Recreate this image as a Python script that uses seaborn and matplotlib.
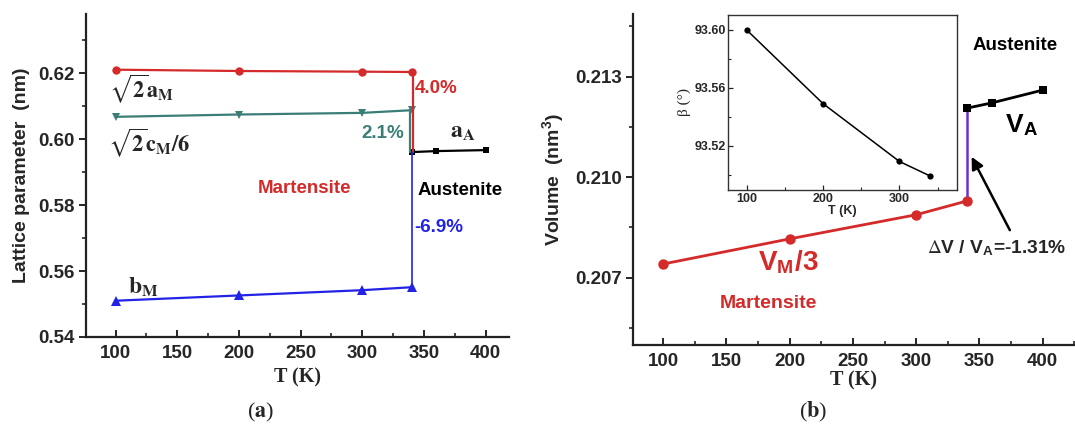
import numpy as np
import pandas as pd
import matplotlib
matplotlib.use("Agg")
import matplotlib.pyplot as plt
from matplotlib.ticker import MultipleLocator
import seaborn as sns

# ---------------- data ----------------
T_M = [100, 200, 300, 340]
T_A = [340, 360, 400]
a_M = [0.6211, 0.6207, 0.6205, 0.6204]      # sqrt(2) a_M
c_M = [0.6068, 0.6075, 0.6080, 0.6088]      # sqrt(2) c_M / 6
b_M = [0.5510, 0.5526, 0.5542, 0.5551]
a_A = [0.5961, 0.5964, 0.5967]

V_M = [0.20741, 0.20816, 0.20888, 0.20929]  # V_M / 3
V_A = [0.21206, 0.21222, 0.21260]

T_beta = [100, 200, 300, 340]
beta = [93.600, 93.549, 93.509, 93.499]

RED = "#d42a2a"
TEAL = "#3b7d77"
BLUE = "#2323e6"
PURPLE = "#6a30d8"
SANS = "Liberation Sans"
SERIF = "Liberation Serif"

sns.set_theme(style="ticks")
plt.rcParams["font.family"] = [SANS, "DejaVu Sans"]
plt.rcParams["mathtext.fontset"] = "stix"

fig = plt.figure(figsize=(10.75, 4.25), dpi=100)
axA = fig.add_axes([0.080, 0.2071, 0.3935, 0.760])
axB = fig.add_axes([0.5886, 0.188, 0.4114, 0.779])
axI = fig.add_axes([0.6775, 0.553, 0.2125, 0.412])

def style_main(ax):
    for s in ["top", "right"]:
        ax.spines[s].set_visible(False)
    for s in ["left", "bottom"]:
        ax.spines[s].set_linewidth(1.6)
        ax.spines[s].set_color("#222222")
    ax.tick_params(axis="y", which="major", direction="out", length=5, width=1.4, labelsize=13.5, pad=3)
    ax.tick_params(axis="y", which="minor", direction="out", length=3, width=1.2)
    ax.tick_params(axis="x", which="major", direction="in", length=5, width=1.4, labelsize=13.5, pad=6)
    ax.tick_params(axis="x", which="minor", direction="in", length=3, width=1.2)
    for lab in ax.get_xticklabels() + ax.get_yticklabels():
        lab.set_fontweight("bold")
        lab.set_family(SANS)

lw = 1.6
ms = 6
# ---------------- panel (a) ----------------
df_a = pd.DataFrame({"T": T_M, "y": a_M})
sns.lineplot(data=df_a, x="T", y="y", ax=axA, color=RED, marker="o", markersize=ms,
             markeredgewidth=0, linewidth=lw)
sns.lineplot(x=T_M, y=c_M, ax=axA, color=TEAL, marker="v", markersize=ms,
             markeredgewidth=0, linewidth=lw)
sns.lineplot(x=T_M, y=b_M, ax=axA, color=BLUE, marker="^", markersize=ms + 1,
             markeredgewidth=0, linewidth=lw)
sns.lineplot(x=T_A, y=a_A, ax=axA, color="black", marker="s", markersize=ms - 1,
             markeredgewidth=0, linewidth=lw)
# vertical jumps at the transition
axA.plot([T_M[-1] + 1.5, T_A[0] + 1.5], [a_M[-1], a_A[0]], color=RED, lw=lw)
axA.plot([T_M[-1] - 1.5, T_A[0] - 1.5], [c_M[-1], a_A[0]], color=TEAL, lw=lw)
axA.plot([T_M[-1], T_A[0]], [b_M[-1], a_A[0]], color=BLUE, lw=1.2)

axA.set_xlim(76, 419)
axA.set_ylim(0.54, 0.638)
axA.xaxis.set_major_locator(MultipleLocator(50))
axA.xaxis.set_minor_locator(MultipleLocator(25))
axA.yaxis.set_major_locator(MultipleLocator(0.02))
axA.yaxis.set_minor_locator(MultipleLocator(0.01))
axA.yaxis.set_major_formatter(matplotlib.ticker.FormatStrFormatter("%.2f"))
style_main(axA)
axA.set_xlabel("T (K)", family=SERIF, fontsize=14.5, fontweight="bold", labelpad=4)
axA.set_ylabel("Lattice parameter  (nm)", fontsize=14, fontweight="bold", labelpad=6)

kw_serif = dict(fontsize=16, va="center", ha="left")
axA.text(95, 0.6155, r"$\mathbf{\sqrt{2}a_{M}}$", **kw_serif)
axA.text(93.5, 0.5991, r"$\mathbf{\sqrt{2}c_{M}/6}$", **kw_serif)
axA.text(371, 0.6021, r"$\mathbf{a_{A}}$", fontsize=17, va="center", ha="left")
axA.text(110, 0.5552, r"$\mathbf{b_{M}}$", fontsize=17, va="center", ha="left")
kw_b = dict(fontsize=13.5, fontweight="bold", va="center", ha="left")
axA.text(342.5, 0.6155, "4.0%", color=RED, **kw_b)
axA.text(299.5, 0.6018, "2.1%", color=TEAL, **kw_b)
axA.text(342.5, 0.5733, "-6.9%", color=BLUE, **kw_b)
axA.text(253, 0.5852, "Martensite", color=RED, fontsize=13.5, fontweight="bold", va="center", ha="center")
axA.text(345, 0.5845, "Austenite", color="black", **kw_b)

# ---------------- panel (b) ----------------
sns.lineplot(x=T_M, y=V_M, ax=axB, color=RED, marker="o", markersize=ms + 1.5,
             markeredgewidth=0, linewidth=2.0)
sns.lineplot(x=T_A, y=V_A, ax=axB, color="black", marker="s", markersize=ms,
             markeredgewidth=0, linewidth=2.0)
axB.plot([T_M[-1], T_A[0]], [V_M[-1], V_A[0]], color=PURPLE, lw=1.8, zorder=1)
axB.set_xlim(76, 425.5)
axB.set_ylim(0.20499, 0.21487)
axB.xaxis.set_major_locator(MultipleLocator(50))
axB.xaxis.set_minor_locator(MultipleLocator(25))
axB.yaxis.set_major_locator(MultipleLocator(0.003))
axB.yaxis.set_minor_locator(MultipleLocator(0.0015))
axB.yaxis.set_major_formatter(matplotlib.ticker.FormatStrFormatter("%.3f"))
style_main(axB)
axB.set_xlabel("T (K)", family=SERIF, fontsize=14.5, fontweight="bold", labelpad=0)
axB.set_ylabel(r"Volume  (nm$^\mathregular{3}$)", fontsize=14, fontweight="bold", labelpad=6)

axB.text(344.8, 0.21392, "Austenite", color="black", **kw_b)
axB.text(370, 0.21156, r"V$_\mathregular{A}$", color="black", fontsize=19, fontweight="bold", va="center")
axB.text(175, 0.20744, r"V$_\mathregular{M}$/3", color=RED, fontsize=20, fontweight="bold", va="center")
axB.text(144.8, 0.20622, "Martensite", color=RED, fontsize=14, fontweight="bold", va="center")
axB.text(308.5, 0.20789, r"$\Delta$V / V$_\mathregular{A}$=-1.31%", fontsize=13.8, fontweight="bold",
         va="center", ha="left", clip_on=False)
axB.annotate("", xy=(343.8, 0.21061), xytext=(374, 0.20842),
             arrowprops=dict(arrowstyle="-|>", color="black", lw=1.8, mutation_scale=18,
                             shrinkA=0, shrinkB=0))

# ---------------- inset ----------------
sns.lineplot(x=T_beta, y=beta, ax=axI, color="black", marker="o", markersize=4.5,
             markeredgewidth=0, linewidth=1.1)
axI.set_xlim(76, 375)
axI.set_ylim(93.4893, 93.6104)
axI.xaxis.set_major_locator(MultipleLocator(100))
axI.xaxis.set_minor_locator(MultipleLocator(50))
axI.yaxis.set_major_locator(MultipleLocator(0.04))
axI.yaxis.set_minor_locator(MultipleLocator(0.02))
axI.yaxis.set_major_formatter(matplotlib.ticker.FormatStrFormatter("%.2f"))
for s in axI.spines.values():
    s.set_linewidth(1.0)
    s.set_color("#333333")
axI.tick_params(which="major", direction="in", length=3.5, width=0.9, labelsize=9, pad=2)
axI.tick_params(which="minor", direction="in", length=2, width=0.8)
for lab in axI.get_xticklabels() + axI.get_yticklabels():
    lab.set_fontweight("bold")
axI.set_xlabel("T (K)", fontsize=9, fontweight="bold", labelpad=0)
axI.set_ylabel("β (°)", family=SERIF, fontsize=11, labelpad=2)

# panel labels
fig.text(0.242, 0.030, r"($\mathbf{a}$)", family=SERIF, fontsize=16, ha="center", va="center")
fig.text(0.756, 0.030, r"($\mathbf{b}$)", family=SERIF, fontsize=16, ha="center", va="center")

fig.savefig("out.png", dpi=100)
